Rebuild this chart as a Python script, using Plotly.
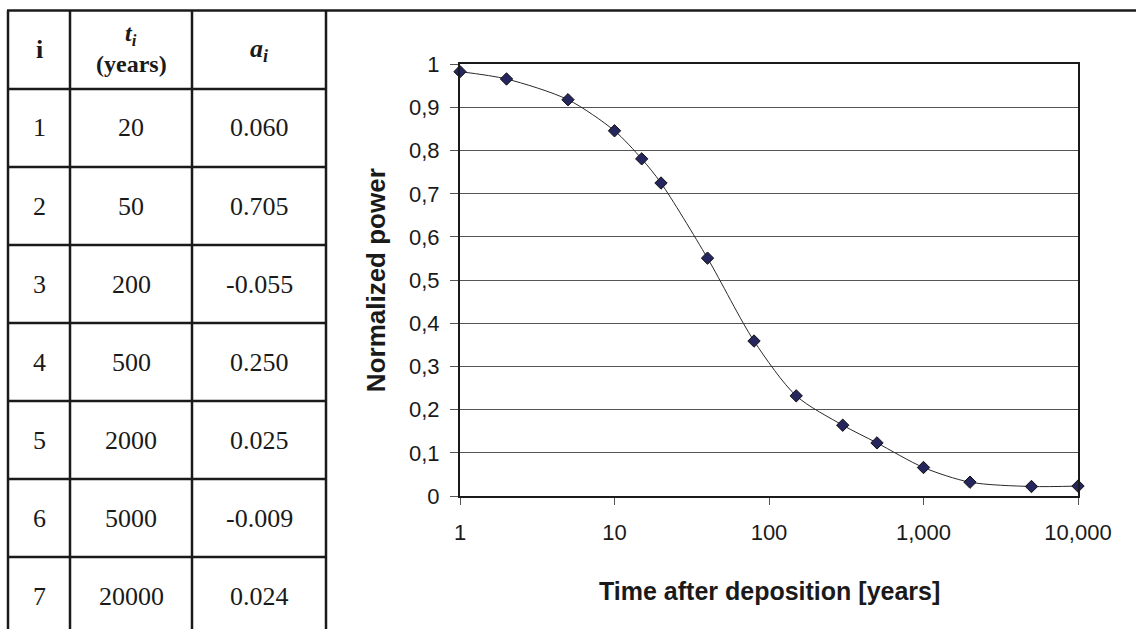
import plotly.graph_objects as go

# Decay curve: normalized power vs. time after deposition
years = [1, 2, 5, 10, 15, 20, 40, 80, 150, 300, 500, 1000, 2000, 5000, 10000]
power = [0.983, 0.966, 0.918, 0.846, 0.781, 0.725, 0.551, 0.359, 0.232,
         0.164, 0.123, 0.066, 0.032, 0.022, 0.023]

# Fit coefficients table
row_index = ["1", "2", "3", "4", "5", "6", "7"]
t_years = ["20", "50", "200", "500", "2000", "5000", "20000"]
a_coef = ["0.060", "0.705", "-0.055", "0.250", "0.025", "-0.009", "0.024"]

y_ticks = [0, 0.1, 0.2, 0.3, 0.4, 0.5, 0.6, 0.7, 0.8, 0.9, 1]
y_ticktext = ["0", "0,1", "0,2", "0,3", "0,4", "0,5", "0,6", "0,7", "0,8", "0,9", "1"]
x_ticks = [1, 10, 100, 1000, 10000]
x_ticktext = ["1", "10", "100", "1,000", "10,000"]

W, H = 1136, 629


def px(x):
    return x / W


def py(y):
    return 1 - y / H


INK = "#1a1a1a"
SANS = "Liberation Sans, Arial, sans-serif"
SERIF = "Liberation Serif, Times New Roman, serif"

fig = go.Figure()
fig.add_trace(go.Scatter(
    x=years, y=power, mode="lines+markers",
    line=dict(color="#2a2a2a", width=1, shape="spline", smoothing=0.8),
    marker=dict(symbol="diamond", size=9.5, color="#26265e",
                line=dict(color="#111111", width=1)),
    cliponaxis=False, showlegend=False, hoverinfo="x+y",
))

# --- table grid ---
shapes = []
col_x = [8, 70, 192, 326]
row_y = [89, 167, 245, 323, 401, 479, 557]
top_y = 10.5
shapes.append(dict(type="line", xref="paper", yref="paper",
                   x0=px(7), x1=px(1136), y0=py(top_y), y1=py(top_y),
                   line=dict(color=INK, width=2.5)))
for cx in col_x:
    shapes.append(dict(type="line", xref="paper", yref="paper",
                       x0=px(cx), x1=px(cx), y0=py(top_y), y1=py(H + 2),
                       line=dict(color=INK, width=2.5)))
for ry in row_y:
    shapes.append(dict(type="line", xref="paper", yref="paper",
                       x0=px(col_x[0]), x1=px(col_x[-1]), y0=py(ry), y1=py(ry),
                       line=dict(color=INK, width=2.5)))

annotations = []
col_cx = [(col_x[i] + col_x[i + 1]) / 2 for i in range(3)]
cell_font = dict(family=SERIF, size=26, color=INK)
head_font = dict(family=SERIF, size=24, color=INK)


def cell(x, y, text, font=cell_font):
    annotations.append(dict(x=px(x), y=py(y), xref="paper", yref="paper",
                            text=text, showarrow=False, font=font,
                            xanchor="center", yanchor="middle"))


# header row
cell(col_cx[0], 50, "<b>i</b>")
cell(col_cx[1], 35, "<b><i>t</i></b><sub><b><i>i</i></b></sub>", head_font)
cell(col_cx[1], 64, "<b>(years)</b>", head_font)
cell(col_cx[2], 50, "<b><i>a</i></b><sub><b><i>i</i></b></sub>")

bounds = [89] + row_y[1:] + [635]
for k in range(len(row_index)):
    cy = (bounds[k] + bounds[k + 1]) / 2
    cell(col_cx[0], cy, row_index[k])
    cell(col_cx[1], cy, t_years[k])
    cell(col_cx[2], cy, a_coef[k])

# --- axis titles ---
plot_l, plot_r, plot_t, plot_b = 460, 1078, 64.3, 496
annotations.append(dict(x=px((plot_l + plot_r) / 2), y=py(591), xref="paper", yref="paper",
                        text="<b>Time after deposition [years]</b>", showarrow=False,
                        font=dict(family=SANS, size=25, color=INK),
                        xanchor="center", yanchor="middle"))
annotations.append(dict(x=px(376), y=py((plot_t + plot_b) / 2), xref="paper", yref="paper",
                        text="<b>Normalized power</b>", showarrow=False, textangle=-90,
                        font=dict(family=SANS, size=26, color=INK),
                        xanchor="center", yanchor="middle"))

fig.update_layout(
    template="none",
    width=W, height=H,
    margin=dict(l=0, r=0, t=0, b=0, autoexpand=False),
    paper_bgcolor="white", plot_bgcolor="white",
    shapes=shapes, annotations=annotations,
    xaxis=dict(type="log", range=[0, 4], domain=[px(plot_l), px(plot_r)],
               tickvals=x_ticks, ticktext=x_ticktext,
               ticks="outside", ticklen=7, tickwidth=1, tickcolor="#555555",
               showline=True, linecolor=INK, linewidth=2, mirror=True,
               showgrid=False, zeroline=False, automargin=False,
               tickfont=dict(family=SANS, size=22, color=INK),
               ticklabelstandoff=9),
    yaxis=dict(range=[0, 1], domain=[py(plot_b), py(plot_t)],
               tickvals=y_ticks, ticktext=y_ticktext,
               ticks="outside", ticklen=8, tickwidth=1, tickcolor="#555555",
               showline=True, linecolor=INK, linewidth=2, mirror=True,
               showgrid=True, gridcolor="#555555", gridwidth=1.2,
               zeroline=False, automargin=False,
               tickfont=dict(family=SANS, size=22, color=INK),
               ticklabelstandoff=6),
)

fig.write_html("out.html")
